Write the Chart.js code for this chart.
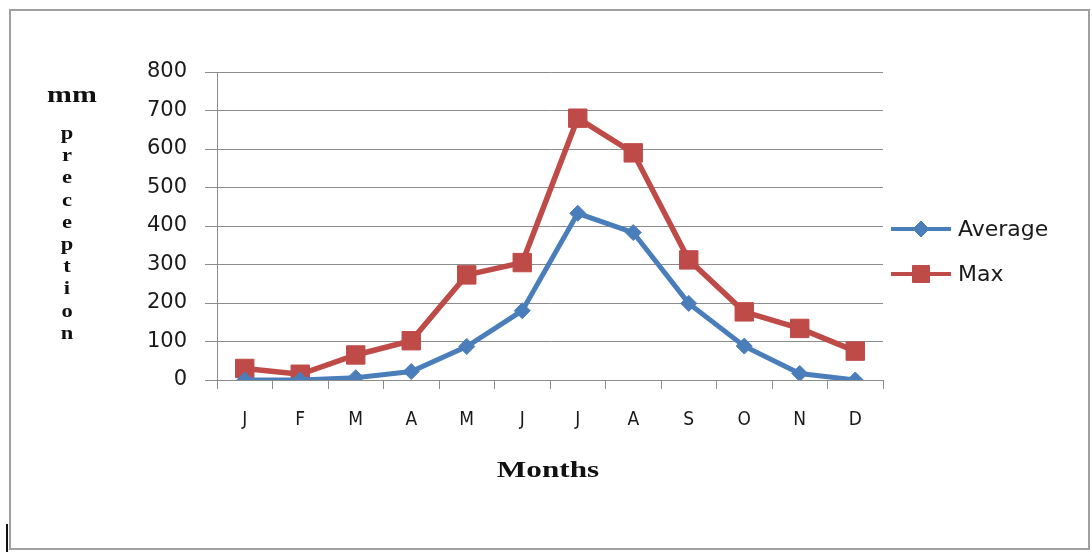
<!DOCTYPE html>
<html>
<head>
<meta charset="utf-8">
<script src="https://cdn.jsdelivr.net/npm/chart.js@4"></script>
<style>
  html,body{margin:0;padding:0;background:#fff;}
  #wrap{position:relative;width:1092px;height:552px;}
  canvas{display:block;}
</style>
</head>
<body>
<div id="wrap"><canvas id="c" width="1092" height="552"></canvas></div>
<script>
const months = ["J","F","M","A","M","J","J","A","S","O","N","D"];
const averageValues = [0, 0, 6, 22, 87, 180, 433, 383, 199, 88, 17, 0];
const maxValues = [30, 15, 65, 102, 273, 305, 680, 590, 312, 177, 134, 75];
const yTicks = [0, 100, 200, 300, 400, 500, 600, 700, 800];
const yTitleTop = "mm";
const yTitleVertical = "preception";
const xTitle = "Months";
const seriesNames = ["Average", "Max"];

const BLUE = "#4A7EBB";
const RED = "#BE4B48";

const decor = {
  id: "decor",
  beforeDraw(chart) {
    const ctx = chart.ctx;
    ctx.save();
    ctx.fillStyle = "#fff";
    ctx.fillRect(0, 0, chart.width, chart.height);
    ctx.strokeStyle = "#a0a0a0";
    ctx.lineWidth = 2;
    ctx.strokeRect(10, 10, 1079, 539);
    ctx.strokeStyle = "#111";
    ctx.lineWidth = 2;
    ctx.beginPath(); ctx.moveTo(7, 524); ctx.lineTo(7, 552); ctx.stroke();
    ctx.restore();
  },
  afterDraw(chart) {
    const ctx = chart.ctx;
    const area = chart.chartArea;
    ctx.save();
    ctx.fillStyle = "#111";
    ctx.textAlign = "center";
    ctx.textBaseline = "alphabetic";
    ctx.save();
    ctx.translate(72, 102);
    ctx.scale(1.3, 1);
    ctx.font = "bold 23px 'Liberation Serif', 'DejaVu Serif', serif";
    ctx.fillText(yTitleTop, 0, 0);
    ctx.restore();
    const letters = yTitleVertical.split("");
    letters.forEach((ch, i) => {
      ctx.save();
      ctx.translate(67, 139 + i * 22.2);
      ctx.scale(1.25, 1);
      ctx.font = "bold 18px 'Liberation Serif', 'DejaVu Serif', serif";
      ctx.fillText(ch, 0, 0);
      ctx.restore();
    });
    ctx.save();
    ctx.translate((area.left + area.right) / 2 - 2, 477);
    ctx.scale(1.3, 1);
    ctx.font = "bold 24px 'Liberation Serif', 'DejaVu Serif', serif";
    ctx.fillText(xTitle, 0, 0);
    ctx.restore();
    const ys = [229, 274];
    const legendRadius = [8, 12];
    chart.data.datasets.forEach((ds, i) => {
      const y = ys[i];
      ctx.strokeStyle = ds.borderColor;
      ctx.lineWidth = 4;
      ctx.beginPath(); ctx.moveTo(891, y); ctx.lineTo(951, y); ctx.stroke();
      ctx.fillStyle = ds.pointBackgroundColor;
      ctx.strokeStyle = ds.pointBorderColor;
      ctx.lineWidth = 1;
      Chart.helpers.drawPoint(ctx, {pointStyle: ds.pointStyle, rotation: 0, radius: legendRadius[i], borderWidth: 1}, 921, y);
      ctx.fillStyle = "#1a1a1a";
      ctx.textAlign = "left";
      ctx.textBaseline = "middle";
      ctx.font = "22px 'DejaVu Sans', sans-serif";
      ctx.fillText(ds.label, 958, y + 1);
    });
    ctx.restore();
  }
};

new Chart(document.getElementById("c"), {
  type: "line",
  data: {
    labels: months,
    datasets: [
      {
        label: seriesNames[0],
        data: averageValues,
        borderColor: BLUE,
        backgroundColor: BLUE,
        pointBackgroundColor: BLUE,
        pointBorderColor: BLUE,
        borderWidth: 5,
        pointStyle: "rectRot",
        pointRadius: 8,
        pointBorderWidth: 1,
        tension: 0
      },
      {
        label: seriesNames[1],
        data: maxValues,
        borderColor: RED,
        backgroundColor: RED,
        pointBackgroundColor: RED,
        pointBorderColor: RED,
        borderWidth: 5.5,
        pointStyle: "rect",
        pointRadius: 13,
        pointBorderWidth: 1,
        tension: 0
      }
    ]
  },
  options: {
    responsive: false,
    animation: false,
    devicePixelRatio: 1,
    layout: { padding: { left: 0, right: 209, top: 72, bottom: 0 } },
    plugins: { legend: { display: false }, tooltip: { enabled: false } },
    scales: {
      x: {
        offset: true,
        afterFit(s) { s.height = 172; },
        grid: { display: true, drawOnChartArea: false, drawTicks: true, tickLength: 9, offset: true, color: "#8c8c8c", lineWidth: 1 },
        border: { display: true, color: "#8c8c8c", width: 1 },
        ticks: { color: "#1a1a1a", padding: 20, font: { family: "'Liberation Sans Narrow', 'DejaVu Sans Condensed', sans-serif", size: 19 }, maxRotation: 0, autoSkip: false }
      },
      y: {
        min: 0, max: 800,
        afterFit(s) { s.width = 217; },
        afterBuildTicks(s) { s.ticks = yTicks.map(v => ({value: v})); },
        grid: { color: "#8c8c8c", lineWidth: 1, drawTicks: true, tickLength: 12 },
        border: { display: true, color: "#8c8c8c", width: 1 },
        ticks: { color: "#1a1a1a", padding: 18, font: { family: "'DejaVu Sans', sans-serif", size: 21 } }
      }
    }
  },
  plugins: [decor]
});
</script>
</body>
</html>
